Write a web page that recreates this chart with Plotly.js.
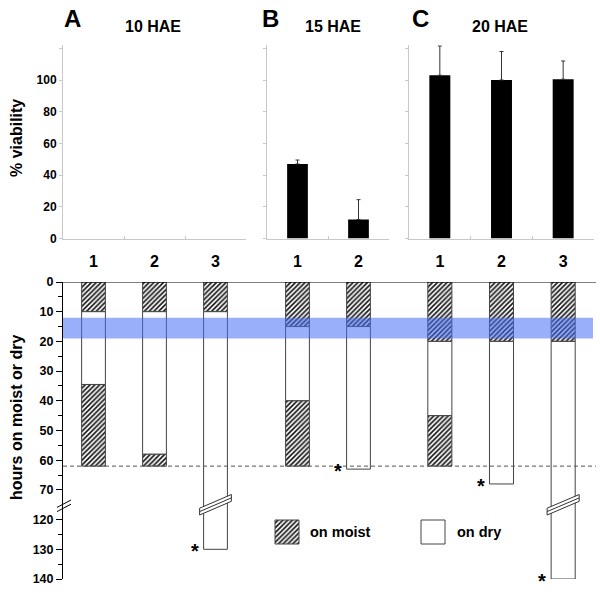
<!DOCTYPE html>
<html>
<head>
<meta charset="utf-8">
<script src="https://cdn.plot.ly/plotly-3.0.1.min.js"></script>
<style>html,body{margin:0;padding:0;background:#fff;}#chart{width:600px;height:593px;}</style>
</head>
<body>
<div id="chart"></div>
<script>
// ---------- data ----------
const catsA = ['1', '2', '3'];
const catsB = ['1', '2'];
const catsC = ['1', '2', '3'];

const viabilityA = [0, 0, 0];
const viabilityB = [47, 12];
const viabilityBErr = [2.5, 12.5];
const viabilityC = [103, 100, 100.5];
const viabilityCErr = [18.5, 18, 11.5];

// hours: end of first moist period, end of dry period, end of second moist period (null = none)
const moist1EndA = [10, 10, 10];
const dryEndA = [34.5, 58, 130];
const moist2EndA = [62, 62, null];

const moist1EndB = [15, 15];
const dryEndB = [40, 63];
const moist2EndB = [62, null];

const moist1EndC = [20, 20, 20];
const dryEndC = [45, 68, 140];
const moist2EndC = [62, null, null];

const asteriskA = [false, false, true];
const asteriskB = [false, true];
const asteriskC = [false, true, true];

const criticalBand = [12, 19];   // hours (blue band)
const endLine = 62;              // hours (dashed line)

const hourTicks = [0, 10, 20, 30, 40, 50, 60, 70, 120, 130, 140];
const hourMinor = [5, 15, 25, 35, 45, 55, 65, 125, 135];
const viabTicks = [0, 20, 40, 60, 80, 100, 120];
const viabText = ['0', '20', '40', '60', '80', '100', ''];

// ---------- helpers ----------
const FONT = 'Arial, "Liberation Sans", sans-serif';
const W = 600, H = 593;
const px = x => x / W, py = y => 1 - y / H;
const BREAK_SHIFT = 40;           // 120 h plotted where 80 h would be
const BREAK_AT = 75;              // plotted position of the axis break
const tr = h => (h > 95 ? h - BREAK_SHIFT : h);

const VMAX = 122;
const yPerUnit = (238.5 - 48.3) / 120;
const xA = [px(63), px(246)], xB = [px(267), px(389)], xC = [px(409), px(594)];
const yTop = [py(238.5), py(238.5 - VMAX * yPerUnit)];
const yBot = [py(579), py(282)];

const hatch = {shape: '/', size: 3.4, solidity: 0.5, fgcolor: '#1a1a1a', bgcolor: '#fff', fillmode: 'replace'};
const barLine = {color: '#444', width: 1};

const traces = [];
const shapes = [];
const annotations = [];

function topBars(cats, vals, errs, xa, ya) {
  const t = {
    type: 'bar', x: cats, y: vals, xaxis: xa, yaxis: ya, width: 0.34, cliponaxis: false,
    marker: {color: '#000'}, showlegend: false, hoverinfo: 'skip'
  };
  if (errs) t.error_y = {type: 'data', symmetric: false, array: errs, arrayminus: errs.map(() => 0),
                         color: '#333', thickness: 1, width: 2};
  traces.push(t);
}
topBars(catsA, viabilityA, null, 'x', 'y');
topBars(catsB, viabilityB, viabilityBErr, 'x2', 'y2');
topBars(catsC, viabilityC, viabilityCErr, 'x3', 'y3');

function bottomBars(cats, m1, dry, m2, ast, xa) {
  const idx = cats.map((c, i) => i);
  const W0 = 0.39;
  traces.push({type: 'bar', x: idx, base: idx.map(() => 0), y: m1.map(v => tr(v)),
    xaxis: xa, yaxis: 'y4', width: W0, marker: {color: '#fff', pattern: hatch, line: barLine},
    showlegend: false, hoverinfo: 'skip'});
  traces.push({type: 'bar', x: idx, base: m1.map(v => tr(v)), y: dry.map((v, i) => tr(v) - tr(m1[i])),
    xaxis: xa, yaxis: 'y4', width: W0, marker: {color: '#fff', line: barLine},
    showlegend: false, hoverinfo: 'skip'});
  const i2 = idx.filter(i => m2[i] !== null);
  traces.push({type: 'bar', x: i2, base: i2.map(i => tr(dry[i])), y: i2.map(i => tr(m2[i]) - tr(dry[i])),
    xaxis: xa, yaxis: 'y4', width: W0, marker: {color: '#fff', pattern: hatch, line: barLine},
    showlegend: false, hoverinfo: 'skip'});
  idx.forEach(i => {
    if (ast[i]) {
      annotations.push({xref: xa, yref: 'y4', x: i, y: tr(dry[i]), text: '*', showarrow: false,
        xanchor: 'center', yanchor: 'top', xshift: -21, yshift: 11,
        font: {family: FONT, size: 20, color: '#000', weight: 'bold'}});
    }
    if (dry[i] > 95) {
      const x0 = i - 0.26, x1 = i + 0.26, s = 2.3, h = 1.15;
      shapes.push({type: 'path', xref: xa, yref: 'y4', layer: 'above',
        path: `M${x0},${BREAK_AT + s + h} L${x1},${BREAK_AT - s + h} L${x1},${BREAK_AT - s - h} L${x0},${BREAK_AT + s - h} Z`,
        fillcolor: '#fff', line: {color: '#333', width: 1}});
      shapes.push({type: 'line', xref: xa, yref: 'y4', layer: 'above',
        x0: x0, y0: BREAK_AT + s, x1: x1, y1: BREAK_AT - s, line: {color: '#333', width: 1}});
    }
  });
}
bottomBars(catsA, moist1EndA, dryEndA, moist2EndA, asteriskA, 'x4');
bottomBars(catsB, moist1EndB, dryEndB, moist2EndB, asteriskB, 'x5');
bottomBars(catsC, moist1EndC, dryEndC, moist2EndC, asteriskC, 'x6');

// legend swatches (pixel overlay axes)
traces.push({type: 'scatter', mode: 'lines', x: [275, 299, 299, 275, 275], y: [520, 520, 544, 544, 520],
  xaxis: 'x7', yaxis: 'y7', fill: 'toself', fillcolor: '#fff', fillpattern: hatch,
  line: {color: '#444', width: 1}, showlegend: false, hoverinfo: 'skip'});
traces.push({type: 'scatter', mode: 'lines', x: [421, 445, 445, 421, 421], y: [520, 520, 544, 544, 520],
  xaxis: 'x7', yaxis: 'y7', fill: 'toself', fillcolor: '#fff',
  line: {color: '#444', width: 1}, showlegend: false, hoverinfo: 'skip'});

// shapes: band, dashed line, top line, axis break
shapes.push({type: 'rect', xref: 'paper', yref: 'y4', x0: px(63), x1: px(593),
  y0: tr(criticalBand[0]), y1: tr(criticalBand[1]), fillcolor: 'rgba(70,110,245,0.55)', line: {width: 0}, layer: 'above'});
shapes.push({type: 'line', xref: 'paper', yref: 'y4', x0: px(63), x1: px(596), y0: tr(endLine), y1: tr(endLine),
  line: {color: '#555', width: 1, dash: '4px,3px'}, layer: 'above'});
shapes.push({type: 'line', xref: 'paper', yref: 'y4', x0: px(63), x1: px(596), y0: 0, y1: 0,
  line: {color: '#000', width: 1}, layer: 'above'});
shapes.push({type: 'line', xref: 'paper', yref: 'y4', x0: px(57), x1: px(71), y0: BREAK_AT + 0.9, y1: BREAK_AT - 1.6,
  line: {color: '#000', width: 1}});
shapes.push({type: 'line', xref: 'paper', yref: 'y4', x0: px(57), x1: px(71), y0: BREAK_AT + 2.3, y1: BREAK_AT - 0.2,
  line: {color: '#000', width: 1}});

// text annotations
function txt(text, x, y, size, extra) {
  annotations.push(Object.assign({xref: 'paper', yref: 'paper', x: px(x), y: py(y), text: text, showarrow: false,
    xanchor: 'center', yanchor: 'middle', font: {family: FONT, size: size, color: '#000', weight: 'bold'}}, extra || {}));
}
txt('A', 72, 18, 24);
txt('10 HAE', 153, 26, 16);
txt('B', 270, 18, 24);
txt('15 HAE', 333, 26, 16);
txt('C', 420, 18, 24);
txt('20 HAE', 500, 26, 16);
txt('% viability', 16, 138, 16, {textangle: -90});
txt('hours on moist or dry', 16, 418, 16, {textangle: -90});
txt('on moist', 308, 532, 14.5, {xanchor: 'left'});
txt('on dry', 455, 532, 14.5, {xanchor: 'left'});

// axes
const topX = (dom, anchor, cats) => ({domain: dom, anchor: anchor, type: 'category', categoryarray: cats,
  categoryorder: 'array', range: [-0.5, cats.length - 0.5], showline: true, linecolor: '#c8c8c8', linewidth: 1,
  ticks: 'inside', tickson: 'boundaries', ticklen: 3, tickcolor: '#c8c8c8', showgrid: false, zeroline: false,
  tickfont: {family: FONT, size: 16, color: '#000', weight: 'bold'}, ticklabelstandoff: 8, fixedrange: true});
const topY = (anchor, labels) => ({domain: yTop, anchor: anchor, range: [0, VMAX], showline: true, linecolor: '#c8c8c8',
  linewidth: 1, ticks: 'outside', ticklen: 3, tickcolor: '#c8c8c8', tickmode: 'array', tickvals: viabTicks,
  ticktext: viabText, showticklabels: labels, showgrid: false, zeroline: false,
  tickfont: {family: FONT, size: 12, color: '#000', weight: 'bold'}, fixedrange: true});
const botX = (dom, n) => ({domain: dom, anchor: 'y4', type: 'linear', range: [-0.5, n - 0.5], visible: false,
  fixedrange: true});

const layout = {
  width: W, height: H, margin: {l: 0, r: 0, t: 0, b: 0}, paper_bgcolor: '#fff', plot_bgcolor: 'rgba(0,0,0,0)',
  barmode: 'overlay', showlegend: false, font: {family: FONT},
  xaxis: topX(xA, 'y', catsA), yaxis: topY('x', true),
  xaxis2: topX(xB, 'y2', catsB), yaxis2: topY('x2', false),
  xaxis3: topX(xC, 'y3', catsC), yaxis3: topY('x3', false),
  xaxis4: botX(xA, catsA.length), xaxis5: botX(xB, catsB.length), xaxis6: botX(xC, catsC.length),
  yaxis4: {domain: yBot, anchor: 'x4', range: [tr(140), 0], showline: true, linecolor: '#000', linewidth: 1,
    ticks: 'outside', ticklen: 6, tickcolor: '#000', tickmode: 'array', tickvals: hourTicks.map(tr),
    ticktext: hourTicks.map(String), showgrid: false, zeroline: false,
    minor: {tickmode: 'array', tickvals: hourMinor.map(tr), ticks: 'outside', ticklen: 4, tickcolor: '#000', showgrid: false},
    tickfont: {family: FONT, size: 12.5, color: '#000', weight: 'bold'}, fixedrange: true},
  xaxis7: {domain: [0, 1], anchor: 'y7', range: [0, W], visible: false, fixedrange: true},
  yaxis7: {domain: [0, 1], anchor: 'x7', range: [H, 0], visible: false, fixedrange: true},
  shapes: shapes, annotations: annotations
};

Plotly.newPlot('chart', traces, layout, {displayModeBar: false, staticPlot: true});
</script>
</body>
</html>
